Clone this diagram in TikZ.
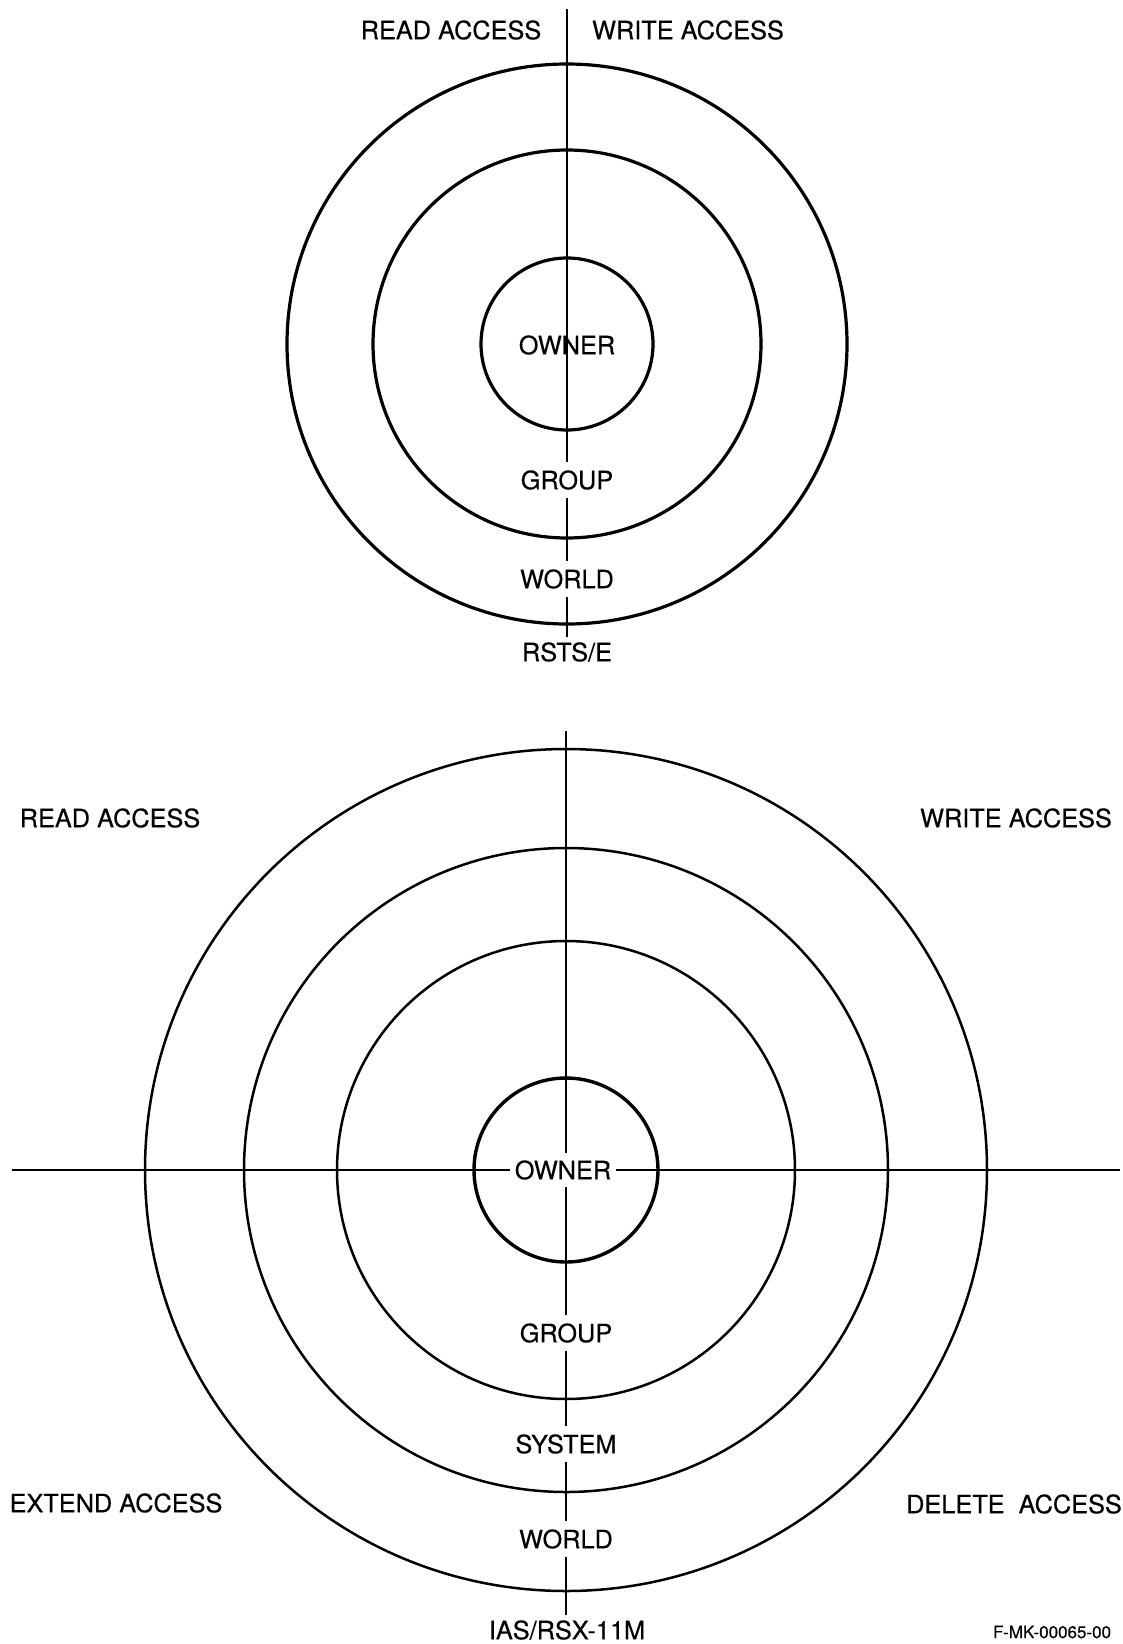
\documentclass[tikz,border=0pt]{standalone}
\usepackage{fontspec}
\setmainfont{TeX Gyre Heros}[FakeBold=0.4]
\begin{document}
\begin{tikzpicture}[x=1pt,y=-1pt,
  lab/.style={font=\fontsize{25.3}{30}\selectfont, inner sep=0pt},
  cut/.style={lab, fill=white, inner xsep=5pt, inner ysep=8pt},
  ring/.style={line width=3.2pt},
  thinring/.style={line width=2.5pt},
  axis/.style={line width=2.9pt}]
\useasboundingbox (0,0) rectangle (1122,1644);

% ---------- top diagram (RSTS/E) ----------
\coordinate (tc) at (567,344);
\draw[ring] (tc) circle (86pt);
\draw[ring] (tc) circle (194pt);
\draw[ring] (tc) circle (280pt);
\coordinate (ttop) at (567,9);
\coordinate (tbot) at (567,637);
\draw[axis] (ttop) -- (tbot);
\node[lab] (towner) at (567,345) {OWNER};
\node[cut] (tgroup) at (567,480) {GROUP};
\node[cut] (tworld) at (567,579) {WORLD};
\node[lab] (trsts) at (567,652) {RSTS/E};
\node[lab] (tread) at (451,30) {READ ACCESS};
\node[lab] (twrite) at (688,30) {WRITE ACCESS};

% ---------- bottom diagram (IAS/RSX-11M) ----------
\coordinate (bc) at (566,1170);
\draw[line width=3.4pt] (bc) circle (92pt);
\draw[thinring] (bc) circle (229pt);
\draw[thinring] (bc) circle (322pt);
\draw[thinring] (bc) circle (421pt);
\coordinate (hl) at (12,1170);
\coordinate (hr) at (1120,1170);
\coordinate (vt) at (566,731);
\coordinate (vb) at (566,1615);
\draw[axis] (hl) -- (hr);
\draw[axis] (vt) -- (vb);
\node[cut, inner ysep=7pt] (bowner) at (563,1170) {OWNER};
\node[cut] (bgroup) at (566,1333) {GROUP};
\node[cut] (bsystem) at (566,1444) {SYSTEM};
\node[cut] (bworld) at (566,1539) {WORLD};
\node[lab] (bias) at (567,1630) {IAS/RSX-11M};
\node[lab] (bread) at (110,818) {READ ACCESS};
\node[lab] (bwrite) at (1016,818) {WRITE ACCESS};
\node[lab] (bextend) at (116,1503) {EXTEND ACCESS};
\node[lab] (bdelete) at (1014,1504) {DELETE\ \ ACCESS};
\node[lab, font=\fontsize{17}{20}\selectfont] (fig) at (1052,1632) {F-MK-00065-00};
\end{tikzpicture}
\end{document}
